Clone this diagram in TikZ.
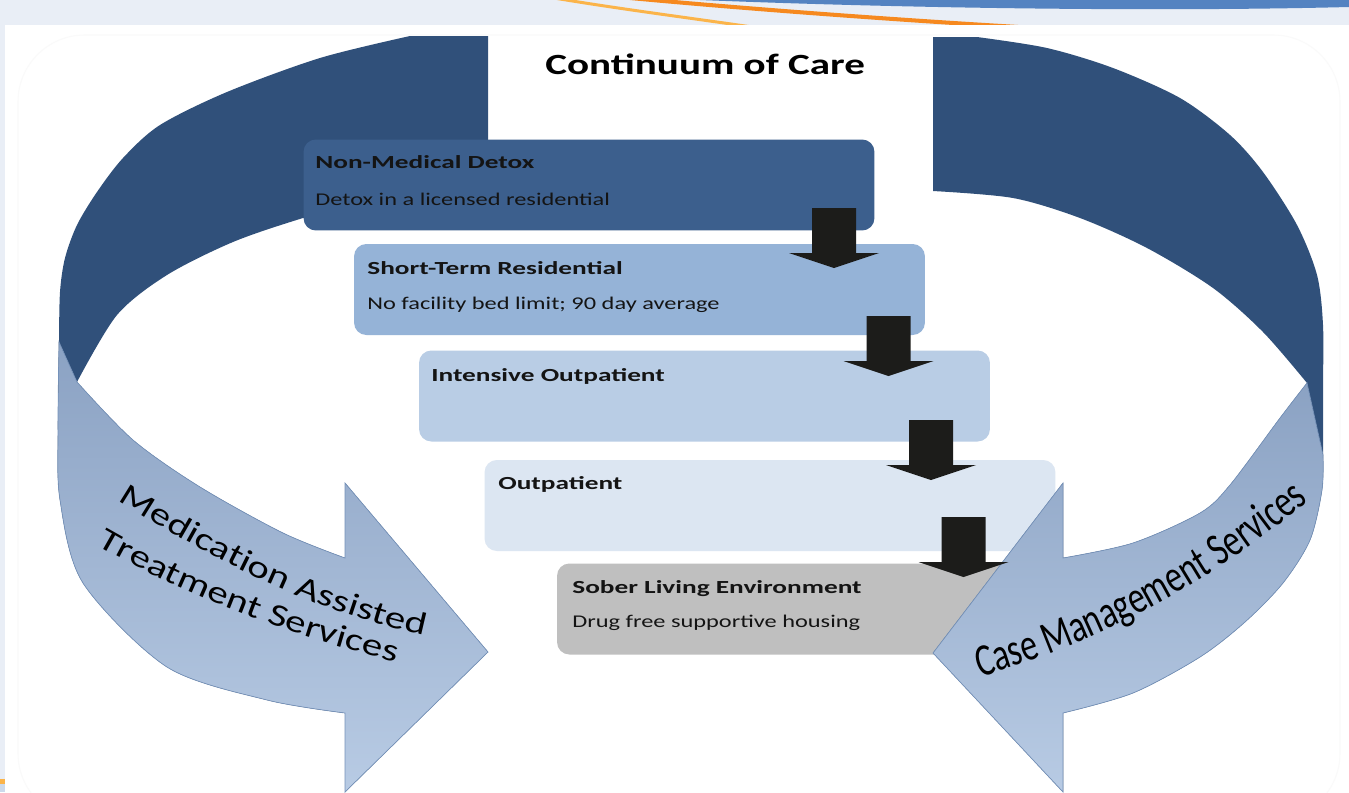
\documentclass[tikz,border=0pt]{standalone}
\usepackage{fontspec}
\setmainfont{Carlito}
\newfontfamily\stagefont[FakeStretch=1.48]{Carlito}
\newfontfamily\notefont[FakeStretch=1.36]{Carlito}
\newfontfamily\headfont[FakeStretch=1.4]{Carlito}
\newfontfamily\ribbonfont[FakeStretch=1.3]{Carlito}
\newfontfamily\casefont[FakeStretch=0.74]{Carlito}
\usetikzlibrary{decorations.text}

\definecolor{bandbg}{HTML}{E9EEF6}
\definecolor{swooshblue}{HTML}{5483C1}
\definecolor{swooshorange}{HTML}{F6891F}
\definecolor{swooshyellow}{HTML}{FBB44A}
\definecolor{ribbondark}{HTML}{30507A}
\definecolor{ribbontop}{HTML}{8BA2C3}
\definecolor{ribbonbottom}{HTML}{B8CBE4}
\definecolor{ribbonedge}{HTML}{7592BA}
\definecolor{detoxblue}{HTML}{3C5F8D}
\definecolor{residblue}{HTML}{95B3D7}
\definecolor{intensblue}{HTML}{B9CDE5}
\definecolor{outblue}{HTML}{DCE6F2}
\definecolor{sobergray}{HTML}{BFBFBF}
\definecolor{stepblack}{HTML}{1C1C1A}

\begin{document}
\begin{tikzpicture}[x=0.02cm, y=-0.02cm,
    stage/.style={rounded corners=7pt, minimum width=11.42cm, minimum height=1.82cm, inner sep=0pt},
    stagetitle/.style={anchor=base west, inner sep=0pt, text=black!92,
        font=\stagefont\fontsize{10.5}{12}\selectfont\bfseries},
    stagetext/.style={anchor=base west, inner sep=0pt, text=black!92,
        font=\notefont\fontsize{10.2}{12}\selectfont},
    front/.style={draw=ribbonedge, line width=0.4pt, top color=ribbontop, bottom color=ribbonbottom}]

    \useasboundingbox (0,0) rectangle (1349,792);

    % slide background
    \fill[bandbg] (0,0) rectangle (1349,792);
    \fill[swooshblue] (700,0) .. controls (900,8) and (1150,12) .. (1349,7) -- (1349,0) -- cycle;
    \draw[swooshyellow, line width=1.7pt] (554,-2) .. controls (620,9) and (690,18) .. (752,27);
    \draw[swooshorange, line width=2.3pt] (630,-2) .. controls (760,10) and (900,20) .. (1018,27);
    \fill[white] (5,25) rectangle (1349,792);
    \fill[swooshyellow] (0,779) rectangle (5,784);
    \fill[swooshblue!30] (0,784) rectangle (5,792);
    \draw[gray!4, line width=0.6pt, rounded corners=38pt] (18,35) rectangle (1340,820);

    % back of the two ribbons
    \fill[ribbondark] (488,36) -- (488,178)
        -- plot[smooth] coordinates {(488,178) (400,190) (303,218) (233,242) (167,275) (117,315) (77,382)}
        -- (59,342)
        -- plot[smooth] coordinates {(59,342) (60,292) (65,258) (77,225) (97,192) (123,158) (160,125) (227,92) (320,58) (410,36)}
        -- cycle;
    \fill[ribbondark] (933,37) -- (977,37)
        -- plot[smooth] coordinates {(977,37) (1047,48) (1113,68) (1180,98) (1230,135) (1263,172) (1297,225) (1317,275) (1323,325) (1323,390) (1323,455)}
        -- (1307,383)
        -- plot[smooth] coordinates {(1307,383) (1263,332) (1213,288) (1147,248) (1080,218) (1013,198) (933,191)}
        -- cycle;

    % stages
    \node[stage, fill=detoxblue] (detox) at (589,185) {};
    \node[stage, fill=residblue] (resid) at (639.5,289.5) {};
    \node[stage, fill=intensblue] (intens) at (704.5,396) {};
    \node[stage, fill=outblue] (outpat) at (770,505.5) {};
    \node[stage, fill=sobergray] (sober) at (842.5,609) {};

    \node[stagetitle] (detoxT) at (315,168) {Non-Medical Detox};
    \node[stagetext] (detoxS) at (315,205) {Detox in a licensed residential};
    \node[stagetitle] (residT) at (367,274) {Short-Term Residential};
    \node[stagetext] (residS) at (367,309) {No facility bed limit; 90 day average};
    \node[stagetitle] (intensT) at (431,381) {Intensive Outpatient};
    \node[stagetitle] (outpatT) at (498,489) {Outpatient};
    \node[stagetitle] (soberT) at (572,593) {Sober Living Environment};
    \node[stagetext] (soberS) at (572,627) {Drug free supportive housing};

    % front of the two ribbons
    \filldraw[front] (59,342) -- (77,382)
        -- plot[smooth] coordinates {(77,382) (133,440) (200,487) (283,533) (345,558)}
        -- (345,483) -- (488,652) -- (345,792) -- (345,713)
        -- plot[smooth] coordinates {(345,713) (267,700) (167,667) (83,583) (60,500) (58,430) (59,342)}
        -- cycle;
    \filldraw[front] (1307,383) -- (1323,455)
        -- plot[smooth] coordinates {(1323,455) (1322,490) (1310,540) (1283,583) (1245,622) (1200,657) (1133,693) (1063,713)}
        -- (1063,792) -- (933,653) -- (1063,483) -- (1063,558)
        -- plot[smooth] coordinates {(1063,558) (1133,543) (1200,513) (1230,485) (1280,418) (1307,383)}
        -- cycle;

    % step arrows
    \foreach \cx/\ty in {834/208, 888.5/316, 931/420, 963.5/517}
        \fill[stepblack] (\cx-22,\ty) -- (\cx+22,\ty) -- (\cx+22,\ty+45) -- (\cx+45,\ty+45)
            -- (\cx,\ty+60) -- (\cx-45,\ty+45) -- (\cx-22,\ty+45) -- cycle;

    % ribbon labels
    \path[decorate, decoration={text along path, text align=left,
        text={|\ribbonfont\fontsize{18}{21}\selectfont|Medication Assisted}}]
        (118,500) .. controls (220,565) and (330,620) .. (452,641);
    \path[decorate, decoration={text along path, text align=left,
        text={|\ribbonfont\fontsize{18}{21}\selectfont|Treatment Services}}]
        (97,545) .. controls (192,600) and (307,642) .. (425,669);
    \path[decorate, decoration={text along path, text align=left,
        text={|\casefont\fontsize{26}{30}\selectfont|Case Management Services}}]
        (980,677) .. controls (1097,643) and (1211,584) .. (1318,493);

    \node[anchor=base west, inner sep=0pt, font=\headfont\fontsize{16.7}{20}\selectfont\bfseries] (title) at (545,74) {Continuum of Care};

\end{tikzpicture}
\end{document}
